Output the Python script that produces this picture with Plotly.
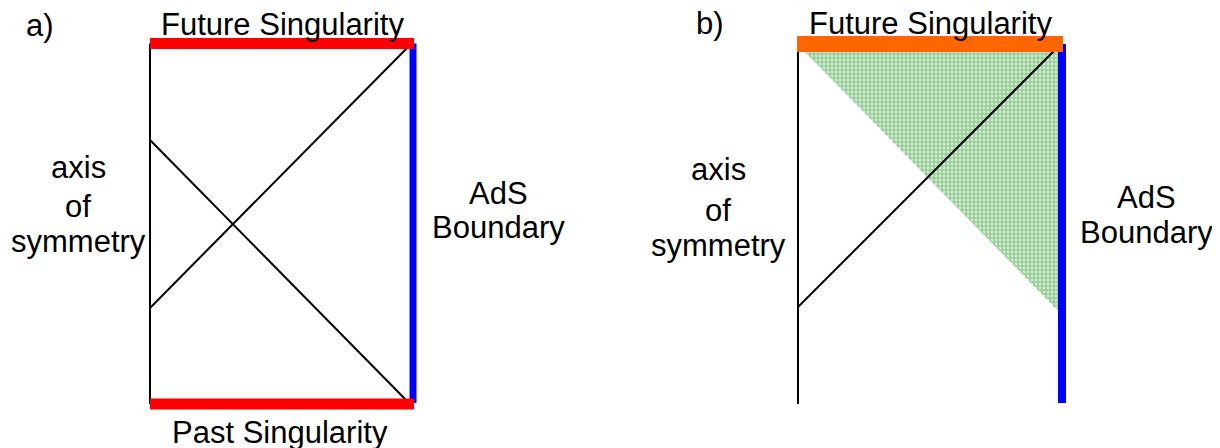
import plotly.graph_objects as go

# ---- diagram geometry (pixel-like units on a 1220 x 448 canvas) ----
panel_labels = ["a)", "b)"]
left_x = [150, 798]
right_x = [413, 1062]
top_y = [43.5, 44]
bottom_y = [404, 404]

# panel a: two null lines (left-edge height -> right corner)
a_diag1 = {"x": [150, 410], "y": [308, 45]}
a_diag2 = {"x": [150, 410], "y": [140, 404]}
# panel b: one null line and the shaded region
b_diag = {"x": [798, 1060], "y": [307, 45]}
b_shade = {"x": [798, 1060, 1060, 798], "y": [45, 45, 313, 45]}

# text labels: (text, x, baseline)
labels = [
    ("a)", 40, 36), ("b)", 710, 34),
    ("Future Singularity", 282, 35), ("Future Singularity", 930, 34),
    ("Past Singularity", 280, 443),
    ("axis", 78, 178), ("of", 78, 217), ("symmetry", 78, 252),
    ("axis", 718, 180), ("of", 718, 221), ("symmetry", 718, 256),
    ("AdS", 498, 204), ("Boundary", 498, 238),
    ("AdS", 1146, 208), ("Boundary", 1146, 243),
]

FONT = "Liberation Sans, Arial, sans-serif"
FS = 31
PAGE_MARGIN = 8  # browser default body margin

fig = go.Figure()

def line(xs, ys, color, width):
    fig.add_trace(go.Scatter(x=xs, y=ys, mode="lines",
                             line=dict(color=color, width=width),
                             hoverinfo="skip", showlegend=False))

# shaded region in panel b
fig.add_trace(go.Scatter(x=b_shade["x"], y=b_shade["y"], mode="lines",
                         line=dict(width=0, color="rgba(0,0,0,0)"),
                         fill="toself", fillcolor="rgba(150,205,150,0.7)",
                         fillpattern=dict(shape="+", fgcolor="#3a9a3a",
                                          bgcolor="#d2ebd2", size=4, solidity=0.5),
                         hoverinfo="skip", showlegend=False))

# panel a
line([left_x[0], left_x[0]], [top_y[0], bottom_y[0]], "black", 2)
line(a_diag1["x"], a_diag1["y"], "black", 2)
line(a_diag2["x"], a_diag2["y"], "black", 2)
line([right_x[0], right_x[0]], [top_y[0], bottom_y[0] - 1], "#0000ff", 7)
line([left_x[0], right_x[0] + 1], [top_y[0], top_y[0]], "#ff0000", 11)
line([left_x[0], right_x[0] + 1], [bottom_y[0], bottom_y[0]], "#ff0000", 11)

# panel b
line([left_x[1], left_x[1]], [top_y[1], bottom_y[1]], "black", 2)
line(b_diag["x"], b_diag["y"], "black", 2)
line([right_x[1], right_x[1]], [top_y[1], bottom_y[1] - 1], "#0000ff", 8)
line([left_x[1] - 1, right_x[1] + 1], [top_y[1], top_y[1]], "#ff6600", 16)

for text, x, base in labels:
    fig.add_annotation(x=x, y=base - 11, text=text, showarrow=False,
                       xanchor="center", yanchor="middle",
                       font=dict(family=FONT, size=FS, color="black"))

fig.update_layout(
    width=1220 - PAGE_MARGIN, height=448 - PAGE_MARGIN,
    margin=dict(l=0, r=0, t=0, b=0),
    paper_bgcolor="white", plot_bgcolor="white",
    xaxis=dict(range=[PAGE_MARGIN, 1220], visible=False, fixedrange=True),
    yaxis=dict(range=[448, PAGE_MARGIN], visible=False, fixedrange=True),
)

fig.write_html("out.html")
